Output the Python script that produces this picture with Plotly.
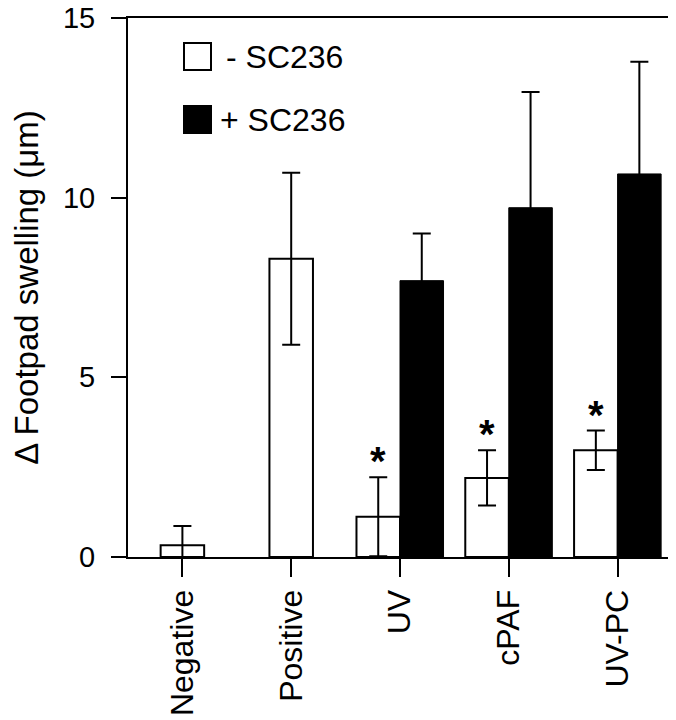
import plotly.graph_objects as go

# data (footpad swelling, um)
categories = ["Negative", "Positive", "UV", "cPAF", "UV-PC"]
minus_sc236 = [0.33, 8.3, 1.12, 2.2, 2.97]
minus_sc236_err = [0.53, 2.39, 1.1, 0.77, 0.55]
plus_sc236 = [None, None, 7.69, 9.72, 10.66]
plus_sc236_err = [None, None, 1.31, 3.22, 3.12]
significant = [False, False, True, True, True]

FONT = "Liberation Sans, Arial, sans-serif"
# page has an 8px body margin, so the figure is sized to fit what is left
W, H = 668, 712
L, R, T, B = 120, 4, 10, 163

bar_w = 0.4
# single bar centred on tick, pair of bars split around the tick
white_offset = [-bar_w / 2 if p is None else -bar_w for p in plus_sc236]

fig = go.Figure()

fig.add_trace(go.Bar(
    x=categories, y=minus_sc236, name="- SC236",
    width=bar_w, offset=white_offset,
    marker=dict(color="white", line=dict(color="black", width=2)),
    error_y=dict(type="data", array=minus_sc236_err, symmetric=True,
                 color="black", thickness=2, width=9),
))

fig.add_trace(go.Bar(
    x=categories, y=plus_sc236, name="+ SC236",
    width=bar_w, offset=0,
    marker=dict(color="black", line=dict(color="black", width=1)),
    error_y=dict(type="data", array=plus_sc236_err, symmetric=True,
                 color="black", thickness=2, width=9),
))

# asterisks above the -SC236 error bars
for i, (v, e, sig) in enumerate(zip(minus_sc236, minus_sc236_err, significant)):
    if not sig:
        continue
    x_pos = i - bar_w / 2 if plus_sc236[i] is not None else i
    fig.add_annotation(x=x_pos, y=v + e, text="<b>*</b>", showarrow=False,
                       xanchor="center", yanchor="bottom", yshift=-8,
                       font=dict(family=FONT, size=40, color="black"))


# hand-drawn legend inside the plot (positions in screen pixels)
def px_x(px):
    return (px - 8 - L) / (W - L - R)


def px_y(py):
    return (H - B - (py - 8)) / (H - B - T)


legend_items = [("- SC236", "white", 43, 224), ("+ SC236", "black", 106, 218)]
for label, color, top, text_x in legend_items:
    fig.add_shape(type="rect", xref="paper", yref="paper",
                  x0=px_x(184), x1=px_x(211), y0=px_y(top + 27), y1=px_y(top),
                  fillcolor=color, line=dict(color="black", width=2))
    fig.add_annotation(xref="paper", yref="paper", x=px_x(text_x), y=px_y(top + 14),
                       text=label, showarrow=False, xanchor="left", yanchor="middle",
                       font=dict(family=FONT, size=32, color="black"))

fig.update_layout(
    width=W, height=H,
    margin=dict(l=L, r=R, t=T, b=B),
    paper_bgcolor="white", plot_bgcolor="white",
    barmode="overlay", showlegend=False,
    font=dict(family=FONT, color="black"),
)

fig.update_xaxes(
    type="category", range=[-0.5, 4.5], automargin=False,
    showline=True, linecolor="black", linewidth=2, mirror=True,
    ticks="outside", ticklen=18, tickwidth=2, tickcolor="black",
    tickangle=-90, tickfont=dict(size=32), showgrid=False,
    ticklabeloverflow="allow",
)
fig.update_yaxes(
    range=[0, 15], tickvals=[0, 5, 10, 15], automargin=False,
    showline=True, linecolor="black", linewidth=2, mirror=True,
    ticks="outside", ticklen=15, tickwidth=2, tickcolor="black",
    ticklabelstandoff=10, ticklabeloverflow="allow",
    tickfont=dict(size=29), showgrid=False, zeroline=False,
    title=dict(text="Δ Footpad swelling (μm)", font=dict(size=33), standoff=28),
)

fig.write_html("out.html")
